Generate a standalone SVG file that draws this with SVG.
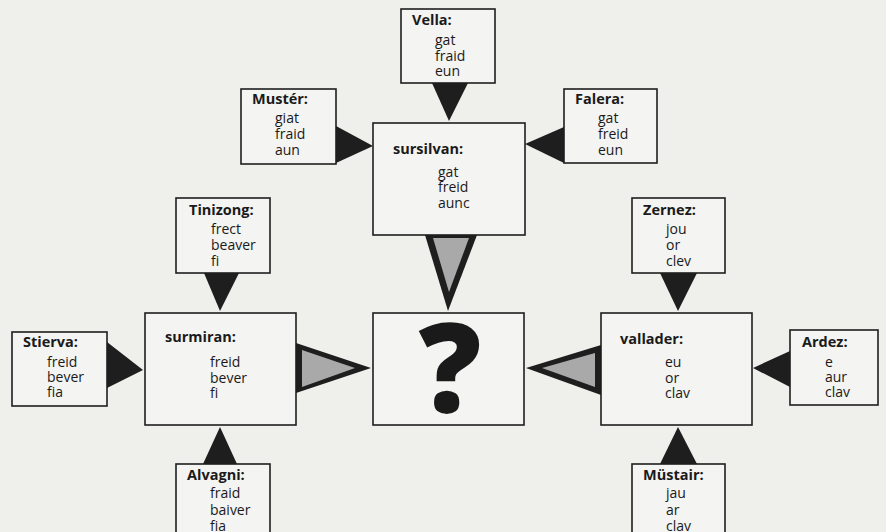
<svg xmlns="http://www.w3.org/2000/svg" width="886" height="532" viewBox="0 0 886 532">
<style>
.bg{fill:#efefec}
.box{fill:#f4f4f2;stroke:#1e1e1e;stroke-width:1.6}
.t{font-family:"Open Sans","Liberation Sans",sans-serif;font-size:14px;fill:#1a1a1a}
.h{font-family:"Open Sans","Liberation Sans",sans-serif;font-size:14.5px;font-weight:bold;fill:#1a1a1a}
.tri{fill:#1e1e1e}
.gray{fill:#a9a9a9}
.q{font-family:"Open Sans","Liberation Sans",sans-serif;font-size:124px;font-weight:800;fill:#1a1a1a}
</style>
<rect class="bg" x="0" y="0" width="886" height="532"/>
<g id="connectors">
<polygon class="tri" points="432,83 468,83 449,121"/>
<polygon class="tri" points="336,126 336,163 373,146"/>
<polygon class="tri" points="564,127 564,163 525,144"/>
<polygon class="tri" points="204,273 239,273 220,311"/>
<polygon class="tri" points="107,342 107,388 143,370"/>
<polygon class="tri" points="203,464 237,464 220,427"/>
<polygon class="tri" points="660,273 697,273 678,311"/>
<polygon class="tri" points="790,351 790,387 753,368"/>
<polygon class="tri" points="660,464 697,464 678,427"/>
<polygon class="tri" points="425,235 477,235 448,311"/>
<polygon class="gray" points="433,238 469,238 449,292"/>
<polygon class="tri" points="296,343 296,393 371,368"/>
<polygon class="gray" points="302,350 302,387 355,368"/>
<polygon class="tri" points="601,345 601,395 526,368"/>
<polygon class="gray" points="595,353 595,387 542,368"/>
</g>
<g id="vella">
<rect class="box" x="401" y="9" width="94" height="74"/>
<text class="h" x="412" y="25">Vella:</text>
<text class="t" x="435" y="45">gat</text>
<text class="t" x="435" y="61">fraid</text>
<text class="t" x="435" y="76">eun</text>
</g>
<g id="muster">
<rect class="box" x="241" y="89" width="95" height="75"/>
<text class="h" x="252" y="104">Mustér:</text>
<text class="t" x="275" y="123">giat</text>
<text class="t" x="275" y="139">fraid</text>
<text class="t" x="275" y="155">aun</text>
</g>
<g id="falera">
<rect class="box" x="564" y="89" width="93" height="74"/>
<text class="h" x="575" y="104">Falera:</text>
<text class="t" x="598" y="123">gat</text>
<text class="t" x="598" y="139">freid</text>
<text class="t" x="598" y="155">eun</text>
</g>
<g id="sursilvan">
<rect class="box" x="373" y="123" width="152" height="112"/>
<text class="h" x="393" y="154">sursilvan:</text>
<text class="t" x="438" y="177">gat</text>
<text class="t" x="438" y="192">freid</text>
<text class="t" x="438" y="208">aunc</text>
</g>
<g id="tinizong">
<rect class="box" x="176" y="198" width="94" height="75"/>
<text class="h" x="189" y="215">Tinizong:</text>
<text class="t" x="211" y="234">frect</text>
<text class="t" x="211" y="250">beaver</text>
<text class="t" x="211" y="266">fi</text>
</g>
<g id="zernez">
<rect class="box" x="632" y="198" width="93" height="75"/>
<text class="h" x="643" y="215">Zernez:</text>
<text class="t" x="666" y="234">jou</text>
<text class="t" x="666" y="250">or</text>
<text class="t" x="666" y="266">clev</text>
</g>
<g id="stierva">
<rect class="box" x="12" y="332" width="95" height="74"/>
<text class="h" x="23" y="347">Stierva:</text>
<text class="t" x="47" y="367">freid</text>
<text class="t" x="47" y="382">bever</text>
<text class="t" x="47" y="397">fia</text>
</g>
<g id="surmiran">
<rect class="box" x="145" y="313" width="151" height="112"/>
<text class="h" x="165" y="342">surmiran:</text>
<text class="t" x="210" y="367">freid</text>
<text class="t" x="210" y="383">bever</text>
<text class="t" x="210" y="398">fi</text>
</g>
<g id="question">
<rect class="box" x="373" y="313" width="151" height="112"/>
<text class="q" x="450" y="412" text-anchor="middle">?</text>
</g>
<g id="vallader">
<rect class="box" x="601" y="313" width="151" height="112"/>
<text class="h" x="620" y="344">vallader:</text>
<text class="t" x="665" y="367">eu</text>
<text class="t" x="665" y="383">or</text>
<text class="t" x="665" y="398">clav</text>
</g>
<g id="ardez">
<rect class="box" x="790" y="330" width="88" height="75"/>
<text class="h" x="802" y="347">Ardez:</text>
<text class="t" x="825" y="367">e</text>
<text class="t" x="825" y="382">aur</text>
<text class="t" x="825" y="397">clav</text>
</g>
<g id="alvagni">
<rect class="box" x="176" y="464" width="94" height="80"/>
<text class="h" x="187" y="480">Alvagni:</text>
<text class="t" x="210" y="498">fraid</text>
<text class="t" x="210" y="515">baiver</text>
<text class="t" x="210" y="531">fia</text>
</g>
<g id="mustair">
<rect class="box" x="632" y="464" width="93" height="80"/>
<text class="h" x="643" y="480">Müstair:</text>
<text class="t" x="666" y="498">jau</text>
<text class="t" x="666" y="515">ar</text>
<text class="t" x="666" y="531">clav</text>
</g>
</svg>
